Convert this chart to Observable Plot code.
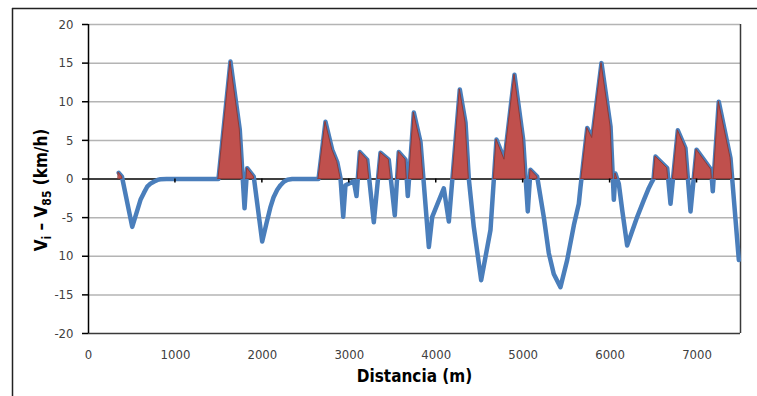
<!DOCTYPE html>
<html><head><meta charset="utf-8">
<script src="https://cdn.jsdelivr.net/npm/d3@7"></script>
<script src="https://cdn.jsdelivr.net/npm/@observablehq/plot@0.6"></script>
<style>
html,body{margin:0;padding:0;background:#fff;}
#chart{width:757px;height:396px;overflow:hidden;}
</style></head><body><div id="chart"></div>
<script>
const distance = [348,385,503,541,598,637,675,713,751,794,828,897,1495,1633,1740,1795,1825,1901,1998,2046,2094,2128,2171,2209,2247,2289,2343,2646,2726,2803,2861,2899,2930,2956,3052,3083,3121,3206,3282,3359,3454,3523,3569,3647,3673,3742,3819,3915,3954,4087,4145,4271,4337,4375,4432,4517,4624,4693,4785,4900,5000,5053,5084,5161,5237,5295,5352,5429,5506,5583,5640,5660,5737,5794,5901,6005,6043,6062,6100,6139,6196,6312,6389,6440,6480,6500,6522,6657,6695,6779,6867,6925,6994,7078,7163,7181,7250,7385,7481];
const difference = [0.8,0.3,-6.2,-4.8,-2.7,-1.8,-1.0,-0.6,-0.35,-0.12,-0.03,0,0,15.2,6.4,-3.8,1.4,0.3,-8.1,-5.8,-3.6,-2.4,-1.4,-0.8,-0.35,-0.1,0,0,7.4,3.8,2.2,0.1,-4.9,-0.8,-0.3,-2.2,3.5,2.5,-5.6,3.4,2.5,-4.7,3.5,2.5,-2.2,8.6,4.8,-8.8,-4.9,-1.2,-5.5,11.6,7.3,0,-6.2,-13.1,-6.6,5.1,2.5,13.5,5.1,-4.2,1.2,0.3,-4.9,-9.6,-12.3,-14.0,-10.5,-6.0,-3.2,-1.0,6.6,5.3,15.0,6.8,-2.7,0.7,-0.6,-4.0,-8.6,-4.9,-2.7,-1.3,-0.4,0,2.9,1.4,-3.2,6.3,4.0,-4.2,3.8,2.5,1.2,-1.6,10.0,2.7,-10.5];
const xTicks = [0,1000,2000,3000,4000,5000,6000,7000];
const yTicks = [20,15,10,5,0,-5,-10,-15,-20];
const yTickLabels = ["20","15","10","5","0","-5","10","-15","-20"];
const xTitle = "Distancia (m)";

const rows = distance.map((d, i) => ({d, v: difference[i]}));
// positive part with zero crossings inserted
const pts = [];
rows.forEach((a, i) => {
  if (i > 0) {
    const b = rows[i - 1];
    if ((b.v > 0 && a.v < 0) || (b.v < 0 && a.v > 0)) {
      const t = b.v / (b.v - a.v);
      pts.push({d: b.d + t * (a.d - b.d), v: 0});
    }
  }
  pts.push({d: a.d, v: a.v});
});
const pos = pts.map((p, i) => {
  const prev = pts[i - 1], next = pts[i + 1];
  let y2 = NaN;
  if (p.v > 0) y2 = p.v;
  else if (p.v === 0 && ((prev && prev.v > 0) || (next && next.v > 0))) y2 = 0;
  return {d: p.d, y2};
});

const FONT = "'Liberation Sans Narrow','DejaVu Sans Condensed','Open Sans',sans-serif";

const chart = Plot.plot({
  width: 757, height: 396,
  marginLeft: 88, marginRight: 17, marginTop: 24, marginBottom: 63,
  style: {fontFamily: FONT, fontSize: "13px", color: "#404040", background: "white", overflow: "visible"},
  x: {domain: [0, 7500]},
  y: {domain: [-20, 20]},
  marks: [
    Plot.ruleY(yTicks.filter(t => t !== 0 && t !== -20), {stroke: "#b4b4b4", strokeWidth: 1.5}),
    Plot.ruleY([-20], {stroke: "#3a3a3a", strokeWidth: 1.5}),
    Plot.ruleX([7500], {stroke: "#3a3a3a", strokeWidth: 1.5}),
    Plot.ruleY([0], {stroke: "#000", strokeWidth: 1.5}),
    Plot.ruleX([0], {stroke: "#000", strokeWidth: 1.5}),
    Plot.axisY({ticks: yTicks, tickFormat: d => yTickLabels[yTicks.indexOf(d)], tickSize: 6, tickPadding: 9, label: null, stroke: "#000", strokeWidth: 1.5, fill: "#404040"}),
    Plot.axisX({ticks: xTicks, tickFormat: d => String(d), tickSize: 0, tickPadding: 16, label: null, fill: "#404040"}),
    Plot.lineY(rows, {x: "d", y: "v", stroke: "#4a7ebb", strokeWidth: 4.5, strokeLinejoin: "round", strokeLinecap: "round"}),
    Plot.areaY(pos, {x: "d", y1: 0, y2: "y2", fill: "#c0504d", stroke: "#8e3b39", strokeWidth: 1, strokeLinejoin: "round"}),
    Plot.text([xTitle], {frameAnchor: "bottom", dy: 48, fontWeight: "bold", fontSize: 17, fill: "#000"})
  ]
});
document.getElementById("chart").appendChild(chart);

const svg = d3.select(chart);
const xs = chart.scale("x"), ys = chart.scale("y");
const y0 = ys.apply(0);
// small ticks below zero line
svg.append("g").selectAll("line").data(xTicks.slice(1)).join("line")
  .attr("x1", d => xs.apply(d)).attr("x2", d => xs.apply(d))
  .attr("y1", y0).attr("y2", y0 + 4)
  .attr("stroke", "#000").attr("stroke-width", 1.5);
// outer frame
svg.append("line").attr("x1", 12).attr("x2", 757).attr("y1", 8.5).attr("y2", 8.5).attr("stroke", "#222").attr("stroke-width", 1.5);
svg.append("line").attr("x1", 12.5).attr("x2", 12.5).attr("y1", 8).attr("y2", 396).attr("stroke", "#222").attr("stroke-width", 1.5);
// y title with subscripts
const yt = svg.append("text")
  .attr("transform", "translate(47,190) rotate(-90)")
  .attr("text-anchor", "middle")
  .attr("font-family", FONT).attr("font-weight", "bold").attr("font-size", 17).attr("fill", "#000");
yt.append("tspan").text("V");
yt.append("tspan").attr("font-size", 12).attr("dy", 4).text("i");
yt.append("tspan").attr("dy", -4).text(" – V");
yt.append("tspan").attr("font-size", 12).attr("dy", 4).text("85");
yt.append("tspan").attr("dy", -4).text(" (km/h)");
</script></body></html>
